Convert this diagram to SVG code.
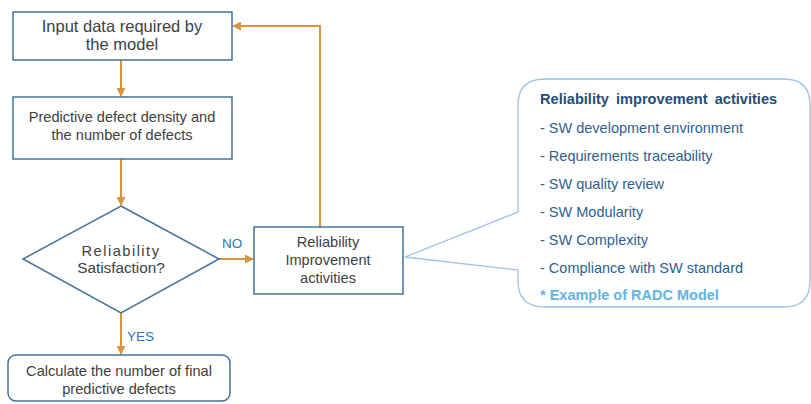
<svg xmlns="http://www.w3.org/2000/svg" width="811" height="404" viewBox="0 0 811 404">
<defs>
<style>
.box{fill:#fff;stroke:#41719c;stroke-width:1.5}
.conn{fill:none;stroke:#d9953c;stroke-width:2}
.t{font-family:"Liberation Sans",Arial,sans-serif;fill:#404040;text-anchor:middle;font-size:14.6px}
.lbl{font-family:"Liberation Sans",Arial,sans-serif;fill:#2e75b6;font-size:13.5px}
.ct{font-family:"Liberation Sans",Arial,sans-serif;fill:#2f5f8f;font-size:14.5px}
</style>
<marker id="ah" viewBox="0 0 10 10" refX="9" refY="5" markerWidth="4.5" markerHeight="4.5" orient="auto" markerUnits="strokeWidth">
<path d="M0,0 L10,5 L0,10 z" fill="#d9953c"/>
</marker>
</defs>
<rect width="811" height="404" fill="#fff"/>
<g id="connectors">
<line class="conn" x1="121" y1="60" x2="121" y2="96" marker-end="url(#ah)"/>
<line class="conn" x1="121" y1="159" x2="121" y2="205" marker-end="url(#ah)"/>
<line class="conn" x1="219" y1="259" x2="253" y2="259" marker-end="url(#ah)"/>
<line class="conn" x1="121" y1="313" x2="121" y2="354" marker-end="url(#ah)"/>
<polyline class="conn" points="320,227 320,26 233,26" marker-end="url(#ah)"/>
<text class="lbl" x="222" y="248">NO</text>
<text class="lbl" x="127" y="341">YES</text>
</g>
<g id="input">
<rect class="box" x="13" y="12" width="219" height="48"/>
<text class="t" x="122" y="32" style="font-size:16.5px">Input data required by</text>
<text class="t" x="122" y="50" style="font-size:16.5px">the model</text>
</g>
<g id="predictive">
<rect class="box" x="13" y="97" width="219" height="62"/>
<text class="t" x="122" y="122">Predictive defect density and</text>
<text class="t" x="122" y="140">the number of defects</text>
</g>
<g id="decision">
<polygon class="box" points="121,206 219,259 121,313 23,259"/>
<text class="t" x="121" y="256" letter-spacing="1.5">Reliability</text>
<text class="t" x="121" y="273" style="font-size:15.3px">Satisfaction?</text>
</g>
<g id="improve">
<rect class="box" x="254" y="227" width="149" height="67"/>
<text class="t" x="328" y="247">Reliability</text>
<text class="t" x="328" y="265">Improvement</text>
<text class="t" x="328" y="283">activities</text>
</g>
<g id="final">
<rect class="box" x="8" y="355" width="222" height="46" rx="8"/>
<text class="t" x="119" y="376">Calculate the number of final</text>
<text class="t" x="119" y="394">predictive defects</text>
</g>
<g id="callout">
<path d="M545,79 H784 Q810,79 810,105 V281 Q810,307 784,307 H545 Q518,307 518,281 V270 L405,257 L518,212 V105 Q518,79 545,79 Z" fill="#fff" stroke="#9dc3e6" stroke-width="1.3"/>
<text x="540" y="104" font-family="Liberation Sans,Arial,sans-serif" font-size="14.6" font-weight="bold" fill="#1f4e79" word-spacing="3">Reliability improvement activities</text>
<text class="ct" x="540" y="133">- SW development environment</text>
<text class="ct" x="540" y="161">- Requirements traceability</text>
<text class="ct" x="540" y="189">- SW quality review</text>
<text class="ct" x="540" y="217">- SW Modularity</text>
<text class="ct" x="540" y="245">- SW Complexity</text>
<text class="ct" x="540" y="273">- Compliance with SW standard</text>
<text x="540" y="300" font-family="Liberation Sans,Arial,sans-serif" font-size="14.5" font-weight="bold" fill="#63b3e3">* Example of RADC Model</text>
</g>
</svg>
